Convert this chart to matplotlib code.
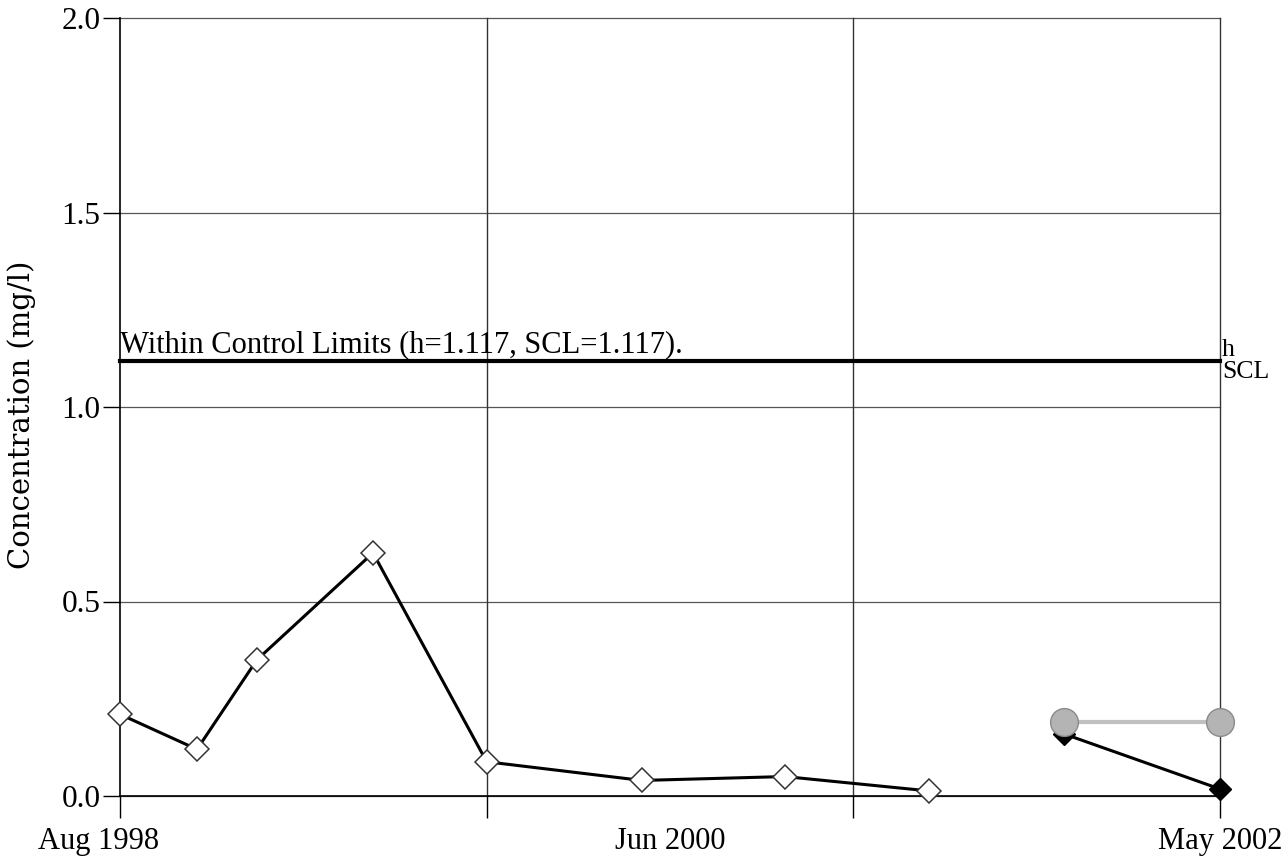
import matplotlib
matplotlib.use('Agg')
from matplotlib import pyplot as plt
from matplotlib import transforms

# months since Aug 1998
months = [0, 3.15, 5.6, 10.35, 15.0, 21.35, 27.2, 33.1]
conc = [0.21, 0.12, 0.35, 0.625, 0.088, 0.04, 0.05, 0.013]

recent_months = [38.6, 45]
recent_conc = [0.16, 0.018]

scl_months = [38.6, 45]
scl_conc = [0.19, 0.19]

h_val = 1.117
x_labels = ['Aug 1998', 'Jun 2000', 'May 2002']
x_label_pos = [0, 22.5, 45]
y_ticks = [0.0, 0.5, 1.0, 1.5, 2.0]

plt.rcParams['font.family'] = ['Liberation Serif', 'DejaVu Serif']

fig = plt.figure(figsize=(12.81, 8.59), dpi=100)
ax = fig.add_axes([120/1281, 63/859, 1100/1281, 778/859])

ax.set_xlim(0, 45)
ax.set_ylim(0, 2.0)

for y in y_ticks:
  ax.axhline(y, color='#555555', lw=0.9, zorder=1, clip_on=False)
for x in [15, 30, 45]:
  ax.axvline(x, color='#333333', lw=1.0, zorder=1, clip_on=False)

ax.axhline(h_val, color='black', lw=3.0, zorder=2, clip_on=False)

ax.plot(months, conc, color='black', lw=2.2, marker='D', markersize=12,
        markerfacecolor='white', markeredgecolor='#333333', markeredgewidth=1.1,
        zorder=3, clip_on=False)
ax.plot(recent_months, recent_conc, color='black', lw=2.2, marker='D', markersize=11,
        markerfacecolor='black', markeredgecolor='black', zorder=4, clip_on=False)
ax.plot(scl_months, scl_conc, color='#c0c0c0', lw=3, marker='o', markersize=20,
        markerfacecolor='#b4b4b4', markeredgecolor='#8a8a8a', markeredgewidth=1.0,
        zorder=5, clip_on=False)

ax.text(0, h_val + 0.005, 'Within Control Limits (h=1.117, SCL=1.117).', fontsize=22,
        ha='left', va='bottom')
ax.text(1.002, h_val, 'h', transform=ax.get_yaxis_transform(), fontsize=18.5,
        ha='left', va='bottom')
ax.text(1.002, h_val, 'SCL', transform=ax.get_yaxis_transform(), fontsize=18.5,
        ha='left', va='top')

ax.set_yticks(y_ticks)
ax.set_yticklabels([f'{v:.1f}' for v in y_ticks], fontsize=22.5)
ax.tick_params(axis='y', direction='out', length=12, width=1, pad=2)

ax.set_xticks([0, 15, 30, 45])
ax.set_xticklabels([])
ax.tick_params(axis='x', which='major', direction='out', length=16, width=1)
ax.xaxis.remove_overlapping_locs = False
ax.set_xticks(x_label_pos, minor=True)
ax.set_xticklabels(x_labels, minor=True, fontsize=22)
ax.tick_params(axis='x', which='minor', length=0, pad=22)
# first label sits a bit left of the axis corner
first = ax.get_xticklabels(minor=True)[0]
first.set_transform(first.get_transform() + transforms.ScaledTranslation(-0.21, 0, fig.dpi_scale_trans))

ax.set_ylabel('Concentration (mg/l)', fontsize=21, family='DejaVu Serif')
ax.yaxis.set_label_coords(-0.076, 0.49)

for s in ['top', 'right']:
  ax.spines[s].set_visible(False)
ax.spines['left'].set_linewidth(1.2)
ax.spines['bottom'].set_linewidth(1.2)

plt.savefig('out.png', dpi=100)
